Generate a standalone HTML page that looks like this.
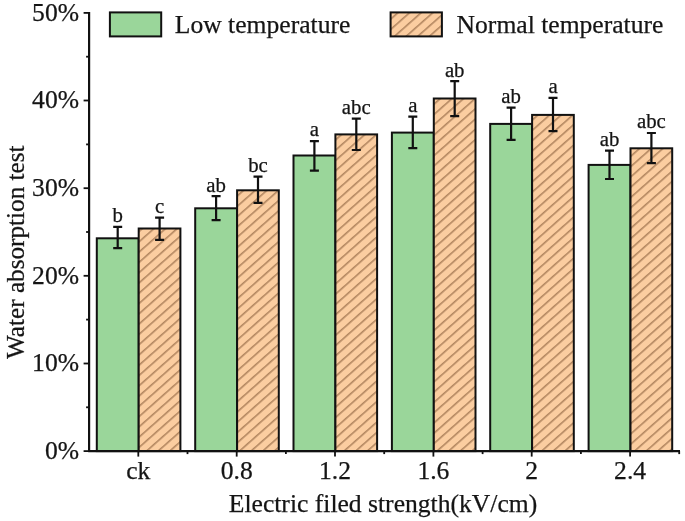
<!DOCTYPE html>
<html><head><meta charset="utf-8"><title>chart</title>
<style>
html,body{margin:0;padding:0;background:#fff;}
body{width:685px;height:521px;overflow:hidden;}
svg{display:block;filter:blur(0.5px);}
text{font-family:"Liberation Serif",serif;fill:#151515;stroke:#151515;stroke-width:0.25px;}
.t{font-size:25.6px;}
.s{font-size:20.8px;}
</style></head><body>
<svg width="685" height="521" viewBox="0 0 685 521">
<defs>
<pattern id="h" patternUnits="userSpaceOnUse" width="7.7" height="7.7" patternTransform="rotate(-41.5)">
<rect width="7.7" height="7.7" fill="#FBCDA0"/>
<line x1="0" y1="3.75" x2="7.7" y2="3.75" stroke="#5e3414" stroke-width="0.75"/>
</pattern>
</defs>
<rect width="685" height="521" fill="#fff"/>

<rect x="96.8" y="238.3" width="41.9" height="212.8" fill="#9AD69A" stroke="#111" stroke-width="2"/>
<rect x="138.7" y="228.5" width="41.7" height="222.6" fill="url(#h)" stroke="#111" stroke-width="2"/>
<rect x="195.2" y="208.3" width="41.9" height="242.8" fill="#9AD69A" stroke="#111" stroke-width="2"/>
<rect x="237.1" y="190.3" width="41.7" height="260.8" fill="url(#h)" stroke="#111" stroke-width="2"/>
<rect x="293.5" y="155.5" width="41.9" height="295.6" fill="#9AD69A" stroke="#111" stroke-width="2"/>
<rect x="335.4" y="134.4" width="41.7" height="316.7" fill="url(#h)" stroke="#111" stroke-width="2"/>
<rect x="391.9" y="132.6" width="41.9" height="318.5" fill="#9AD69A" stroke="#111" stroke-width="2"/>
<rect x="433.8" y="98.5" width="41.7" height="352.6" fill="url(#h)" stroke="#111" stroke-width="2"/>
<rect x="490.2" y="123.9" width="41.9" height="327.2" fill="#9AD69A" stroke="#111" stroke-width="2"/>
<rect x="532.1" y="114.9" width="41.7" height="336.2" fill="url(#h)" stroke="#111" stroke-width="2"/>
<rect x="588.6" y="164.9" width="41.9" height="286.2" fill="#9AD69A" stroke="#111" stroke-width="2"/>
<rect x="630.5" y="148.3" width="41.7" height="302.8" fill="url(#h)" stroke="#111" stroke-width="2"/>
<path d="M117.7 226.8V248.1M113.2 226.8h9M113.2 248.1h9" stroke="#111" stroke-width="2.2" fill="none"/>
<text class="s" x="117.7" y="222.4" text-anchor="middle">b</text>
<path d="M159.6 217.7V239.8M155.1 217.7h9M155.1 239.8h9" stroke="#111" stroke-width="2.2" fill="none"/>
<text class="s" x="159.6" y="212.9" text-anchor="middle">c</text>
<path d="M216.1 196.2V220.2M211.6 196.2h9M211.6 220.2h9" stroke="#111" stroke-width="2.2" fill="none"/>
<text class="s" x="216.1" y="191.6" text-anchor="middle">ab</text>
<path d="M258.0 176.6V202.9M253.5 176.6h9M253.5 202.9h9" stroke="#111" stroke-width="2.2" fill="none"/>
<text class="s" x="258.0" y="171.8" text-anchor="middle">bc</text>
<path d="M314.4 141.2V170.6M309.9 141.2h9M309.9 170.6h9" stroke="#111" stroke-width="2.2" fill="none"/>
<text class="s" x="314.4" y="136.4" text-anchor="middle">a</text>
<path d="M356.3 118.6V150.0M351.8 118.6h9M351.8 150.0h9" stroke="#111" stroke-width="2.2" fill="none"/>
<text class="s" x="356.3" y="114.2" text-anchor="middle">abc</text>
<path d="M412.8 116.7V148.2M408.3 116.7h9M408.3 148.2h9" stroke="#111" stroke-width="2.2" fill="none"/>
<text class="s" x="412.8" y="112.2" text-anchor="middle">a</text>
<path d="M454.7 81.2V116.1M450.2 81.2h9M450.2 116.1h9" stroke="#111" stroke-width="2.2" fill="none"/>
<text class="s" x="454.7" y="76.6" text-anchor="middle">ab</text>
<path d="M511.1 107.6V139.8M506.6 107.6h9M506.6 139.8h9" stroke="#111" stroke-width="2.2" fill="none"/>
<text class="s" x="511.1" y="103.2" text-anchor="middle">ab</text>
<path d="M553.0 97.8V131.2M548.5 97.8h9M548.5 131.2h9" stroke="#111" stroke-width="2.2" fill="none"/>
<text class="s" x="553.0" y="92.9" text-anchor="middle">a</text>
<path d="M609.5 150.6V179.0M605.0 150.6h9M605.0 179.0h9" stroke="#111" stroke-width="2.2" fill="none"/>
<text class="s" x="609.5" y="146.2" text-anchor="middle">ab</text>
<path d="M651.4 133.0V163.1M646.9 133.0h9M646.9 163.1h9" stroke="#111" stroke-width="2.2" fill="none"/>
<text class="s" x="651.4" y="128.4" text-anchor="middle">abc</text>
<path d="M89.1 12.0V452.0" stroke="#111" stroke-width="2.2" fill="none"/>
<path d="M88.19999999999999 451.1H680" stroke="#111" stroke-width="2.2" fill="none"/>
<path d="M83.6 451.1H89.1" stroke="#111" stroke-width="1.8"/>
<text class="t" x="79" y="459.0" text-anchor="end">0%</text>
<path d="M83.6 363.5H89.1" stroke="#111" stroke-width="1.8"/>
<text class="t" x="79" y="371.4" text-anchor="end">10%</text>
<path d="M83.6 275.8H89.1" stroke="#111" stroke-width="1.8"/>
<text class="t" x="79" y="283.7" text-anchor="end">20%</text>
<path d="M83.6 188.2H89.1" stroke="#111" stroke-width="1.8"/>
<text class="t" x="79" y="196.1" text-anchor="end">30%</text>
<path d="M83.6 100.5H89.1" stroke="#111" stroke-width="1.8"/>
<text class="t" x="79" y="108.4" text-anchor="end">40%</text>
<path d="M83.6 12.9H89.1" stroke="#111" stroke-width="1.8"/>
<text class="t" x="79" y="20.8" text-anchor="end">50%</text>
<path d="M86.1 407.3H89.1" stroke="#111" stroke-width="1.8"/>
<path d="M86.1 319.6H89.1" stroke="#111" stroke-width="1.8"/>
<path d="M86.1 232.0H89.1" stroke="#111" stroke-width="1.8"/>
<path d="M86.1 144.4H89.1" stroke="#111" stroke-width="1.8"/>
<path d="M86.1 56.7H89.1" stroke="#111" stroke-width="1.8"/>
<path d="M138.3 451.1V456.6" stroke="#111" stroke-width="1.8"/>
<text class="t" x="138.3" y="479.0" text-anchor="middle">ck</text>
<path d="M187.5 451.1V454.1" stroke="#111" stroke-width="1.8"/>
<path d="M236.7 451.1V456.6" stroke="#111" stroke-width="1.8"/>
<text class="t" x="236.7" y="479.0" text-anchor="middle">0.8</text>
<path d="M285.9 451.1V454.1" stroke="#111" stroke-width="1.8"/>
<path d="M335.0 451.1V456.6" stroke="#111" stroke-width="1.8"/>
<text class="t" x="335.0" y="479.0" text-anchor="middle">1.2</text>
<path d="M384.2 451.1V454.1" stroke="#111" stroke-width="1.8"/>
<path d="M433.4 451.1V456.6" stroke="#111" stroke-width="1.8"/>
<text class="t" x="433.4" y="479.0" text-anchor="middle">1.6</text>
<path d="M482.6 451.1V454.1" stroke="#111" stroke-width="1.8"/>
<path d="M531.7 451.1V456.6" stroke="#111" stroke-width="1.8"/>
<text class="t" x="531.7" y="479.0" text-anchor="middle">2</text>
<path d="M580.9 451.1V454.1" stroke="#111" stroke-width="1.8"/>
<path d="M630.1 451.1V456.6" stroke="#111" stroke-width="1.8"/>
<text class="t" x="630.1" y="479.0" text-anchor="middle">2.4</text>
<path d="M679.2 451.1V454.1" stroke="#111" stroke-width="1.8"/>
<text class="t" x="383" y="511.5" text-anchor="middle">Electric filed strength(kV/cm)</text>
<text class="t" style="font-size:25.2px" transform="translate(24.4 252.2) rotate(-90)" text-anchor="middle">Water absorption test</text>
<rect x="109.9" y="12.4" width="51.3" height="24" fill="#9AD69A" stroke="#111" stroke-width="2"/>
<text class="t" x="174.8" y="33.0">Low temperature</text>
<rect x="390.6" y="12.4" width="51.3" height="24" fill="url(#h)" stroke="#111" stroke-width="2"/>
<text class="t" x="456.6" y="33.0">Normal temperature</text>
</svg></body></html>
